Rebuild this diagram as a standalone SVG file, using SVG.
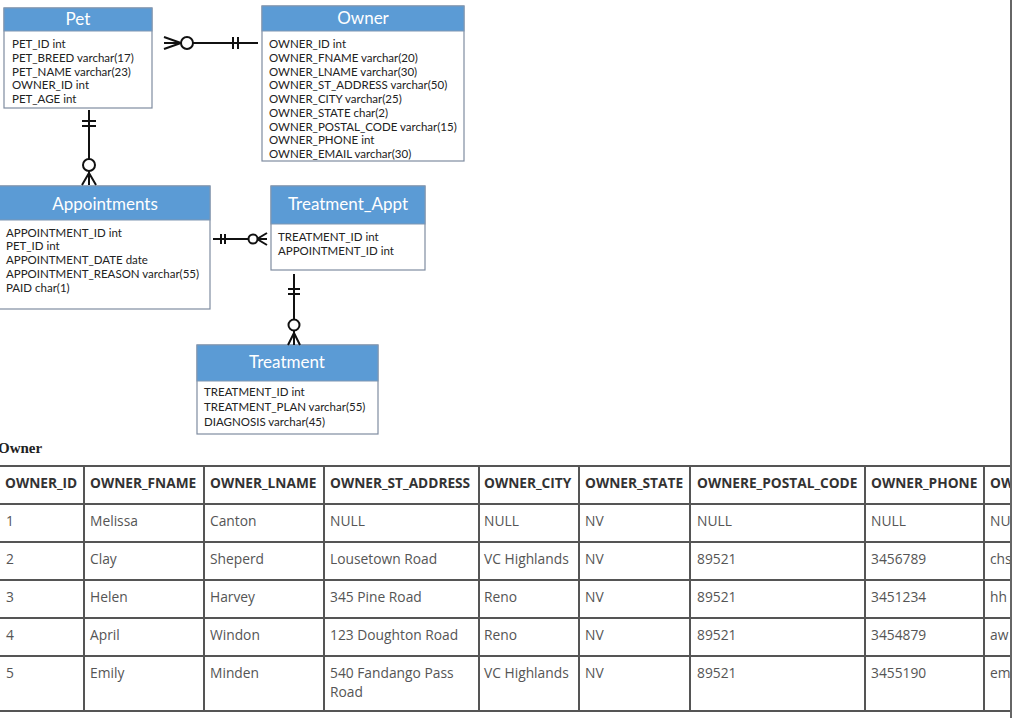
<svg xmlns="http://www.w3.org/2000/svg" width="1024" height="718" viewBox="0 0 1024 718">
<defs>
<style>
.hdr{fill:#5b9bd5;stroke:#7f96b2;stroke-width:1}
.body{fill:#fff;stroke:#7f8ca0;stroke-width:1.2}
.ttl{font-family:Lato,"Liberation Sans",sans-serif;font-size:17px;fill:#fff;text-anchor:middle}
.fld{font-family:Lato,"Liberation Sans",sans-serif;font-size:11.5px;fill:#222}
.ln{stroke:#111;stroke-width:2;fill:none}
.cr{fill:#fff;stroke:#111;stroke-width:2}
.grid{stroke:#555;stroke-width:2;fill:none}
.th{font-family:"Open Sans",sans-serif;font-size:13.7px;font-weight:bold;fill:#333}
.td{font-family:"Open Sans",sans-serif;font-size:13.8px;fill:#555}
</style>
<clipPath id="lastcol"><rect x="984" y="466" width="26" height="246"/></clipPath>
</defs>
<rect width="1024" height="718" fill="#fff"/>

<g id="pet">
<rect class="body" x="4" y="8" width="148" height="100"/>
<rect class="hdr" x="4" y="8" width="148" height="23"/>
<text class="ttl" x="78" y="25">Pet</text>
<text class="fld" x="12" y="48">PET_ID int</text>
<text class="fld" x="12" y="62">PET_BREED varchar(17)</text>
<text class="fld" x="12" y="76">PET_NAME varchar(23)</text>
<text class="fld" x="12" y="89">OWNER_ID int</text>
<text class="fld" x="12" y="103">PET_AGE int</text>
</g>

<g id="owner">
<rect class="body" x="262" y="6" width="202" height="155"/>
<rect class="hdr" x="262" y="6" width="202" height="25"/>
<text class="ttl" x="363" y="24">Owner</text>
<text class="fld" x="269" y="48">OWNER_ID int</text>
<text class="fld" x="269" y="62">OWNER_FNAME varchar(20)</text>
<text class="fld" x="269" y="76">OWNER_LNAME varchar(30)</text>
<text class="fld" x="269" y="89">OWNER_ST_ADDRESS varchar(50)</text>
<text class="fld" x="269" y="103">OWNER_CITY varchar(25)</text>
<text class="fld" x="269" y="117">OWNER_STATE char(2)</text>
<text class="fld" x="269" y="131">OWNER_POSTAL_CODE varchar(15)</text>
<text class="fld" x="269" y="144">OWNER_PHONE int</text>
<text class="fld" x="269" y="158">OWNER_EMAIL varchar(30)</text>
</g>

<g id="appointments">
<rect class="body" x="-1" y="186" width="211" height="123"/>
<rect class="hdr" x="-1" y="186" width="211" height="34"/>
<text class="ttl" x="105" y="210">Appointments</text>
<text class="fld" x="6" y="237">APPOINTMENT_ID int</text>
<text class="fld" x="6" y="250">PET_ID int</text>
<text class="fld" x="6" y="264">APPOINTMENT_DATE date</text>
<text class="fld" x="6" y="278">APPOINTMENT_REASON varchar(55)</text>
<text class="fld" x="6" y="292">PAID char(1)</text>
</g>

<g id="treatment_appt">
<rect class="body" x="271" y="186" width="154" height="84"/>
<rect class="hdr" x="271" y="186" width="154" height="38"/>
<text class="ttl" x="348" y="210">Treatment_Appt</text>
<text class="fld" x="278" y="241">TREATMENT_ID int</text>
<text class="fld" x="278" y="255">APPOINTMENT_ID int</text>
</g>

<g id="treatment">
<rect class="body" x="197" y="345" width="181" height="89"/>
<rect class="hdr" x="197" y="345" width="181" height="36"/>
<text class="ttl" x="287" y="368">Treatment</text>
<text class="fld" x="204" y="396">TREATMENT_ID int</text>
<text class="fld" x="204" y="411">TREATMENT_PLAN varchar(55)</text>
<text class="fld" x="204" y="426">DIAGNOSIS varchar(45)</text>
</g>

<g id="connectors">
<path class="ln" d="M193 43 H258 M233 37 V49 M238 37 V49 M164 37 L181 43 L164 49 M164 43 H181"/>
<circle class="cr" cx="187" cy="43" r="6"/>
<path class="ln" d="M89 110 V159 M82 121 H96 M82 126 H96 M89 171 V185 M89 173 L82 185 M89 173 L96 185"/>
<circle class="cr" cx="89" cy="165" r="6"/>
<path class="ln" d="M213 239 H249 M221 234 V244 M225 234 V244 M267 233 L257 239 L267 245 M257 239 H267"/>
<circle class="cr" cx="253" cy="239" r="4.5"/>
<path class="ln" d="M294 274 V319 M288 289 H300 M288 294 H300 M294 331 V345 M294 333 L288 345 M294 333 L300 345"/>
<circle class="cr" cx="294" cy="325" r="5.5"/>
</g>

<g id="owner_table">
<text x="-2" y="453" font-family="'Liberation Serif',serif" font-size="15" font-weight="bold" fill="#222">Owner</text>
<path class="grid" d="M0 466 H1011 M0 504 H1011 M0 542 H1011 M0 580 H1011 M0 618 H1011 M0 656 H1011 M0 711 H1011 M84 466 V711 M204 466 V711 M324 466 V711 M479 466 V711 M579 466 V711 M690 466 V711 M865 466 V711 M984 466 V711"/>
<text class="th" x="5" y="488">OWNER_ID</text>
<text class="th" x="90" y="488">OWNER_FNAME</text>
<text class="th" x="210" y="488">OWNER_LNAME</text>
<text class="th" x="330" y="488">OWNER_ST_ADDRESS</text>
<text class="th" x="484" y="488">OWNER_CITY</text>
<text class="th" x="585" y="488">OWNER_STATE</text>
<text class="th" x="697" y="488">OWNERE_POSTAL_CODE</text>
<text class="th" x="871" y="488">OWNER_PHONE</text>
<text class="td" x="6" y="526">1</text>
<text class="td" x="90" y="526">Melissa</text>
<text class="td" x="210" y="526">Canton</text>
<text class="td" x="330" y="526">NULL</text>
<text class="td" x="484" y="526">NULL</text>
<text class="td" x="585" y="526">NV</text>
<text class="td" x="697" y="526">NULL</text>
<text class="td" x="871" y="526">NULL</text>
<text class="td" x="6" y="564">2</text>
<text class="td" x="90" y="564">Clay</text>
<text class="td" x="210" y="564">Sheperd</text>
<text class="td" x="330" y="564">Lousetown Road</text>
<text class="td" x="484" y="564">VC Highlands</text>
<text class="td" x="585" y="564">NV</text>
<text class="td" x="697" y="564">89521</text>
<text class="td" x="871" y="564">3456789</text>
<text class="td" x="6" y="602">3</text>
<text class="td" x="90" y="602">Helen</text>
<text class="td" x="210" y="602">Harvey</text>
<text class="td" x="330" y="602">345 Pine Road</text>
<text class="td" x="484" y="602">Reno</text>
<text class="td" x="585" y="602">NV</text>
<text class="td" x="697" y="602">89521</text>
<text class="td" x="871" y="602">3451234</text>
<text class="td" x="6" y="640">4</text>
<text class="td" x="90" y="640">April</text>
<text class="td" x="210" y="640">Windon</text>
<text class="td" x="330" y="640">123 Doughton Road</text>
<text class="td" x="484" y="640">Reno</text>
<text class="td" x="585" y="640">NV</text>
<text class="td" x="697" y="640">89521</text>
<text class="td" x="871" y="640">3454879</text>
<text class="td" x="6" y="678">5</text>
<text class="td" x="90" y="678">Emily</text>
<text class="td" x="210" y="678">Minden</text>
<text class="td" x="330" y="678">540 Fandango Pass</text>
<text class="td" x="330" y="697">Road</text>
<text class="td" x="484" y="678">VC Highlands</text>
<text class="td" x="585" y="678">NV</text>
<text class="td" x="697" y="678">89521</text>
<text class="td" x="871" y="678">3455190</text>
<g clip-path="url(#lastcol)">
<text class="th" x="990" y="488">OW</text>
<text class="td" x="990" y="526">NU</text>
<text class="td" x="990" y="564">chs</text>
<text class="td" x="990" y="602">hh</text>
<text class="td" x="990" y="640">aw</text>
<text class="td" x="990" y="678">em</text>
</g>
</g>
<line x1="1011" y1="0" x2="1011" y2="718" stroke="#666" stroke-width="2"/>
</svg>
